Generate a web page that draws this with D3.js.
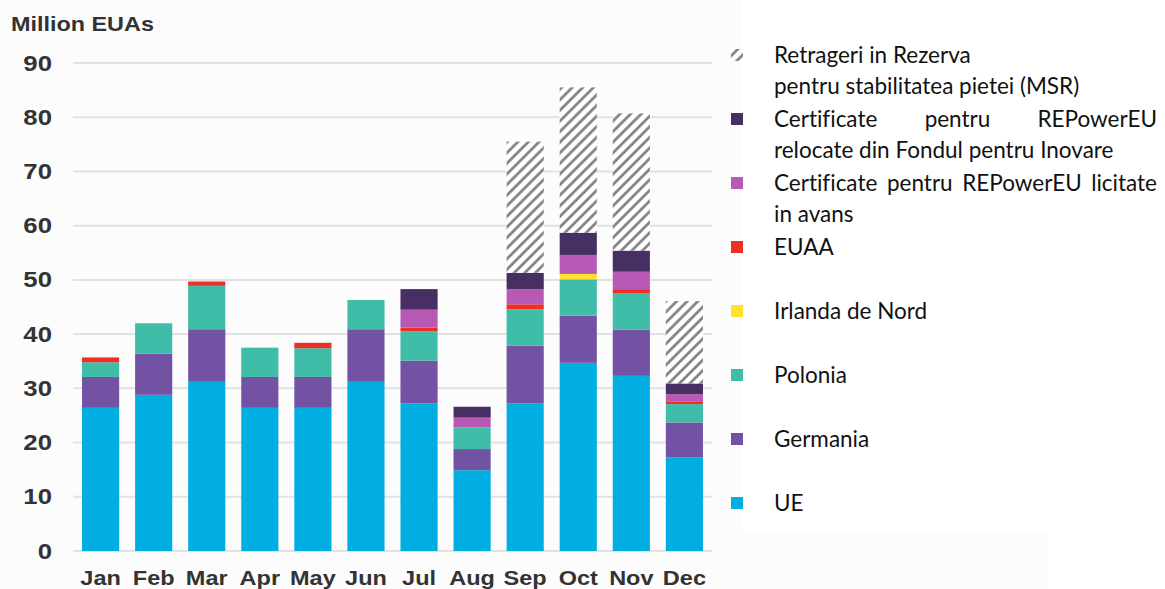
<!DOCTYPE html>
<html>
<head>
<meta charset="utf-8">
<script src="https://cdn.jsdelivr.net/npm/d3@7"></script>
<style>
  body { margin: 0; background: #fff; }
  svg { display: block; }
</style>
</head>
<body>
<svg width="1165" height="589"></svg>
<script>
// month labels and stacked series (million EUAs)
var months = ["Jan","Feb","Mar","Apr","May","Jun","Jul","Aug","Sep","Oct","Nov","Dec"];
var ue       = [26.4, 28.8, 31.2, 26.4, 26.4, 31.2, 27.2, 14.9, 27.2, 34.7, 32.3, 17.3];
var germania = [5.7, 7.6, 9.7, 5.7, 5.7, 9.7, 7.9, 3.9, 10.7, 8.7, 8.5, 6.4];
var polonia  = [2.7, 5.6, 8.0, 5.4, 5.3, 5.4, 5.4, 4.0, 6.7, 6.7, 6.7, 3.4];
var irlanda  = [0, 0, 0, 0, 0, 0, 0, 0, 0, 1.0, 0, 0];
var euaa     = [0.9, 0, 0.8, 0, 1.0, 0, 0.7, 0, 0.9, 0, 0.8, 0.4];
var licitate = [0, 0, 0, 0, 0, 0, 3.3, 1.8, 2.8, 3.5, 3.2, 1.4];
var relocate = [0, 0, 0, 0, 0, 0, 3.8, 2.0, 3.0, 4.1, 3.9, 2.0];
var msr      = [0, 0, 0, 0, 0, 0, 0, 0, 24.2, 26.8, 25.3, 15.2];
var yTicks = [0, 10, 20, 30, 40, 50, 60, 70, 80, 90];

var keys = ["ue","germania","polonia","irlanda","euaa","licitate","relocate","msr"];
var colors = {
  ue: "#00aee2", germania: "#7452a3", polonia: "#40bda9", irlanda: "#ffe12e",
  euaa: "#ec3026", licitate: "#b959b6", relocate: "#472e63", msr: "url(#hatch)"
};
var legendItems = [
  {key: "msr", lines: ["Retrageri in Rezerva", "pentru stabilitatea pietei (MSR)"], justify: false},
  {key: "relocate", lines: ["Certificate pentru REPowerEU", "relocate din Fondul pentru Inovare"], justify: true},
  {key: "licitate", lines: ["Certificate pentru REPowerEU licitate", "in avans"], justify: true},
  {key: "euaa", lines: ["EUAA"]},
  {key: "irlanda", lines: ["Irlanda de Nord"]},
  {key: "polonia", lines: ["Polonia"]},
  {key: "germania", lines: ["Germania"]},
  {key: "ue", lines: ["UE"]}
];

var series = {ue: ue, germania: germania, polonia: polonia, irlanda: irlanda,
  euaa: euaa, licitate: licitate, relocate: relocate, msr: msr};
var table = months.map(function(m, i) {
  var row = {month: m};
  keys.forEach(function(k) { row[k] = series[k][i]; });
  return row;
});

const svg = d3.select("svg");
var axisFont = "'Liberation Sans', Arial, sans-serif";
var sx = 1.17; // the source text is a little wider than Arial

// faint backdrop of the original picture
svg.append("rect").attr("x",0).attr("y",0).attr("width",742).attr("height",589).attr("fill","#fcfcfc");
svg.append("rect").attr("x",742).attr("y",530).attr("width",306).attr("height",59).attr("fill","#fcfcfc");

// hatch for MSR
var defs = svg.append("defs");
defs.append("pattern")
    .attr("id","hatch")
    .attr("patternUnits","userSpaceOnUse")
    .attr("width",7.5).attr("height",7.5)
    .attr("patternTransform","rotate(45)")
  .call(function(p){
    p.append("rect").attr("width",7.5).attr("height",7.5).attr("fill","#fff");
    p.append("line").attr("x1",1.5).attr("y1",0).attr("x2",1.5).attr("y2",7.5)
      .attr("stroke","#858585").attr("stroke-width",2.8);
  });

var x = d3.scaleBand().domain(months).range([73, 712]).paddingInner(0.3).paddingOuter(0.17);
var y = d3.scaleLinear().domain([0, 90]).range([551, 63]);

// gridlines
svg.append("g").selectAll("line")
    .data(yTicks)
    .enter().append("line")
    .attr("x1",73).attr("x2",712)
    .attr("y1",function(d){return y(d)}).attr("y2",function(d){return y(d)})
    .attr("stroke","#e2e2e2").attr("stroke-width",2);

// bars
var stacked = d3.stack().keys(keys)(table);
svg.append("g").selectAll("g")
    .data(stacked)
    .enter().append("g")
    .attr("fill",function(d){return colors[d.key]})
  .selectAll("rect")
    .data(function(d){return d.filter(function(v){return v[1] > v[0]})})
    .enter().append("rect")
    .attr("x",function(d){return x(d.data.month)})
    .attr("width",x.bandwidth())
    .attr("y",function(d){return y(d[1])})
    .attr("height",function(d){return y(d[0]) - y(d[1])});

// y axis
var yAxis = svg.append("g")
    .attr("transform","translate(52,0)")
    .call(d3.axisLeft(y).tickValues(yTicks).tickSize(0).tickPadding(0));
yAxis.select(".domain").remove();
yAxis.selectAll("text")
    .attr("transform","scale(" + sx + ",1)")
    .attr("font-family",axisFont).attr("font-weight","bold")
    .attr("font-size","22px").attr("fill","#333");

// x axis
var xAxis = svg.append("g")
    .attr("transform","translate(0,551)")
    .call(d3.axisBottom(x).tickSize(0).tickPadding(19));
xAxis.select(".domain").remove();
xAxis.selectAll("text")
    .attr("transform","scale(" + 1.12 + ",1)")
    .attr("x",0)
    .attr("font-family",axisFont).attr("font-weight","bold")
    .attr("font-size","21px").attr("fill","#333");

// unit label
svg.append("text")
    .attr("transform","translate(11,31) scale(" + sx + ",1)")
    .attr("font-family",axisFont).attr("font-weight","bold")
    .attr("font-size","20px").attr("fill","#333")
    .text("Million EUAs");

// legend
var legX = 774, legRight = 1157, legY0 = 63, legStep = 64, lineGap = 31;
var legend = svg.append("g")
    .attr("font-family","Lato, sans-serif").attr("font-size","22.5px").attr("fill","#111")
    .style("font-variant-ligatures","none");

legendItems.forEach(function(item, i) {
  var base = legY0 + i * legStep;
  legend.append("rect")
      .attr("x",731).attr("y",base - 14)
      .attr("width",12).attr("height",12)
      .attr("fill",colors[item.key]);
  item.lines.forEach(function(line, j) {
    var t = legend.append("text").attr("y", base + j * lineGap);
    if (item.justify && j == 0) {
      // spread the words over the full legend width
      var words = line.split(" ");
      var spans = words.map(function(w){ return t.append("tspan").text(w); });
      var widths = spans.map(function(s){ return s.node().getComputedTextLength(); });
      var gap = (legRight - legX - d3.sum(widths)) / (words.length - 1);
      var cx = legX;
      spans.forEach(function(s, k){ s.attr("x", cx); cx += widths[k] + gap; });
    } else {
      t.attr("x", legX).text(line);
    }
  });
});
</script>
</body>
</html>
